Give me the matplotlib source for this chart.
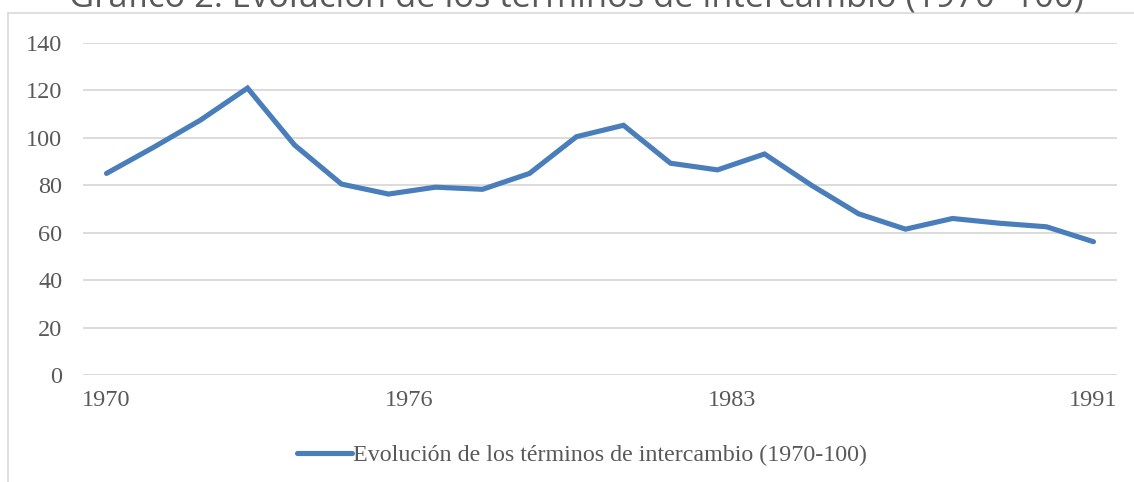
import matplotlib.pyplot as plt
from matplotlib.lines import Line2D

# Data
years = list(range(1970, 1992))
values = [85, 96, 107.5, 121, 97, 80.5, 76.3, 79.2, 78.3, 85, 100.5, 105.3,
          89.3, 86.5, 93.2, 80, 68, 61.5, 66, 64, 62.5, 56.2]
tick_labels = ["1970", "1976", "1983", "1991"]
tick_pos = [0, 6.45, 13.3, 21]
y_ticks = [0, 20, 40, 60, 80, 100, 120, 140]

title = "Gráfico 2. Evolución de los términos de intercambio (1970=100)"
series_name = "Evolución de los términos de intercambio (1970-100)"

W, H = 1134, 482
fig = plt.figure(figsize=(W / 100, H / 100), dpi=100)
fig.patch.set_facecolor("white")

# chart area border (left and top edges visible in the crop)
grey = "#d9d9d9"
fig.add_artist(Line2D([8 / W, 8 / W], [0, 1 - 13 / H], transform=fig.transFigure, color=grey, lw=1.2))
fig.add_artist(Line2D([8 / W, 1], [1 - 13 / H, 1 - 13 / H], transform=fig.transFigure, color=grey, lw=1.2))

# title, mostly cut off at the top like in the source
fig.text(576 / W, 1 - 6 / H, title, ha="center", va="baseline", fontsize=24.8,
         family="Open Sans", color="#595959")

ax = fig.add_axes([83 / W, 1 - 375 / H, (1117 - 83) / W, (375 - 43) / H])
x = list(range(len(years)))
ax.plot(x, values, color="#4a7ebb", lw=3.7, solid_joinstyle="miter",
        solid_capstyle="round", label=series_name)

ax.set_xlim(-0.5, len(years) - 0.5)
ax.set_ylim(0, 140)
ax.set_yticks(y_ticks)
ax.set_xticks(tick_pos)
ax.set_xticklabels(tick_labels)
ax.grid(axis="y", color=grey, lw=1.3)
ax.set_axisbelow(True)
for s in ax.spines.values():
    s.set_visible(False)
ax.tick_params(axis="both", length=0, labelsize=17.5, labelcolor="#595959")
ax.tick_params(axis="y", pad=15)
ax.tick_params(axis="x", pad=11)
for lab in ax.get_xticklabels() + ax.get_yticklabels():
    lab.set_family("Liberation Serif")

leg = ax.legend(loc="center", bbox_to_anchor=(582 / W, 1 - 455 / H),
                bbox_transform=fig.transFigure, frameon=False,
                handlelength=2.3, handletextpad=0.05,
                prop={"family": "Liberation Serif", "size": 17.3})
for t in leg.get_texts():
    t.set_color("#595959")

fig.savefig("out.png", dpi=100)
